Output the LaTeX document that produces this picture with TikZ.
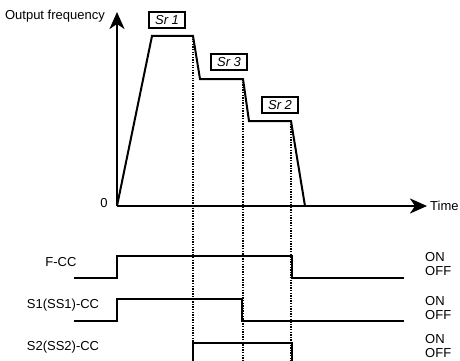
\documentclass[tikz,border=0pt]{standalone}
\usepackage{fontspec}
\setmainfont{Liberation Sans}
\usetikzlibrary{arrows.meta}
\begin{document}
\begin{tikzpicture}[
    x=1pt, y=-1pt,
    font=\fontsize{13}{15}\selectfont,
    every node/.style={inner sep=0pt},
    axis/.style={line width=2.6pt, -{Stealth[length=17pt, width=15pt, inset=5pt]}},
    wave/.style={line width=2pt, line join=miter},
    sig/.style={line width=2pt},
    tickline/.style={line width=2.2pt, dash pattern=on 1.3pt off 1.3pt},
    disp/.style={draw, line width=2.2pt, minimum width=36pt, minimum height=16pt,
                 font=\fontsize{13}{13}\selectfont\itshape},
    onoff/.style={anchor=west, align=left, font=\fontsize{13}{14.5}\selectfont}
]
\useasboundingbox (0,0) rectangle (460,361);
\clip (0,0) rectangle (460,361);

% axes
\coordinate (o) at (117,206);
\coordinate (ytop) at (117,12);
\coordinate (xend) at (427,206);
\coordinate (bot) at (0,362);
\draw[axis] (o) -- (ytop);
\draw[axis] (o) -- (xend);
\node[anchor=east] (ylbl) at (105,16) {Output frequency};
\node[anchor=west] (xlbl) at (430,206) {Time};
\node (zero) at (104,203) {0};

% output frequency
\coordinate (p1) at (152,36);
\coordinate (p2) at (193,36);
\coordinate (p3) at (200,79);
\coordinate (p4) at (243,79);
\coordinate (p5) at (249,121);
\coordinate (p6) at (291,121);
\coordinate (p7) at (305,206);
\draw[wave] (o) -- (p1) -- (p2) -- (p3) -- (p4) -- (p5) -- (p6) -- (p7);

\node[disp] (sr1) at (167,20) {Sr 1};
\node[disp] (sr3) at (229,62) {Sr 3};
\node[disp] (sr2) at (280,105) {Sr 2};

% timing marks
\foreach \p in {p2,p4,p6} {\draw[tickline] (\p) -- (\p |- bot);}

% control signals
\node (fcc) at (61,262) {F-CC};
\node (s1cc) at (63,305) {S1(SS1)-CC};
\node (s2cc) at (63,347) {S2(SS2)-CC};

\draw[sig] (74,278) -- (117,278) -- (117,256) -- (292,256) -- (292,278) -- (404,278);
\draw[sig] (74,321) -- (117,321) -- (117,299) -- (242,299) -- (242,321) -- (404,321);
\draw[sig] (193,370) -- (193,343) -- (292,343) -- (292,370);

\node[onoff] (fon) at (425,264) {ON\\OFF};
\node[onoff] (s1on) at (425,308) {ON\\OFF};
\node[onoff] (s2on) at (425,346) {ON\\OFF};
\end{tikzpicture}
\end{document}
